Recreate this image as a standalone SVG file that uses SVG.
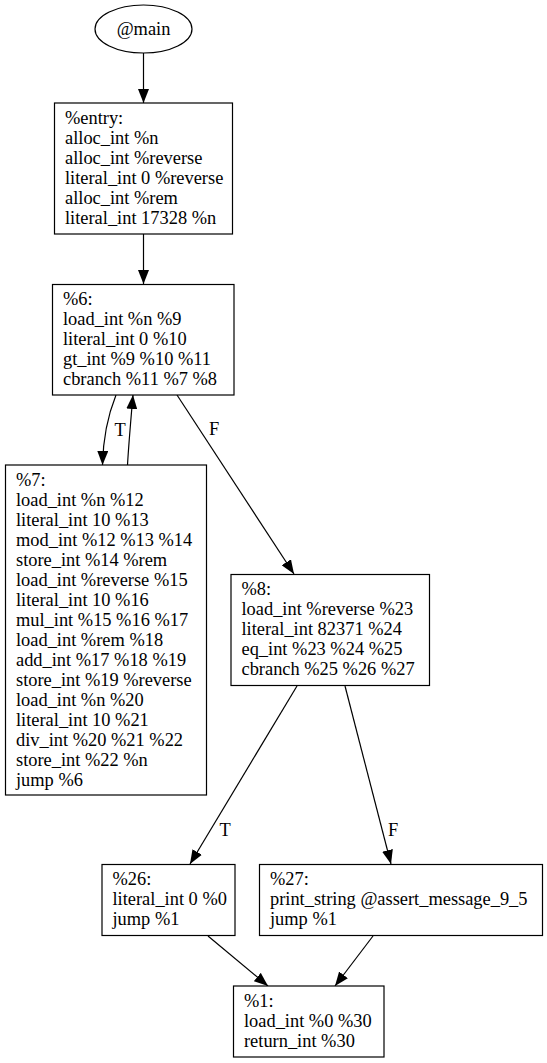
<svg xmlns="http://www.w3.org/2000/svg" width="547" height="1063" viewBox="0 0 547 1063">
<style>
text { font-family: "Liberation Serif", "Times New Roman", serif; font-size: 18.4px; fill: #000; }
.box { fill: #fff; stroke: #000; stroke-width: 1.2; }
.edge { fill: none; stroke: #000; stroke-width: 1.2; }
.mid { text-anchor: middle; }
</style>
<defs>
<marker id="arr" markerUnits="userSpaceOnUse" markerWidth="15" markerHeight="11" refX="14" refY="5.5" orient="auto">
<path d="M0,0 L14,5.5 L0,11 z" fill="#000"/>
</marker>
</defs>
<rect width="547" height="1063" fill="#fff"/>
<g id="connectors">
<path class="edge" d="M143.5,53 L143.5,103" marker-end="url(#arr)"/>
<path class="edge" d="M143.5,234 L143.5,284" marker-end="url(#arr)"/>
<path class="edge" d="M116,395 C108,415 103,440 102.5,465" marker-end="url(#arr)"/>
<text x="120" y="436" class="mid">T</text>
<path class="edge" d="M127.5,465 C129,440 131,418 133,395" marker-end="url(#arr)"/>
<path class="edge" d="M177,395 L294,574" marker-end="url(#arr)"/>
<text x="214" y="435" class="mid">F</text>
<path class="edge" d="M297,686 L190,864" marker-end="url(#arr)"/>
<text x="225" y="836" class="mid">T</text>
<path class="edge" d="M345,686 L391,864" marker-end="url(#arr)"/>
<text x="393" y="836" class="mid">F</text>
<path class="edge" d="M208,936 L268,986" marker-end="url(#arr)"/>
<path class="edge" d="M373,936 L335,986" marker-end="url(#arr)"/>
</g>
<g id="main">
<ellipse cx="143.5" cy="29" rx="48.5" ry="24" class="box"/>
<text x="143.5" y="35" class="mid">@main</text>
</g>
<g id="entry">
<rect x="54.5" y="103" width="178" height="131" class="box"/>
<text x="65" y="124">%entry:</text>
<text x="65" y="144">alloc_int %n</text>
<text x="65" y="164">alloc_int %reverse</text>
<text x="65" y="184">literal_int 0 %reverse</text>
<text x="65" y="204">alloc_int %rem</text>
<text x="65" y="224">literal_int 17328 %n</text>
</g>
<g id="n6">
<rect x="52.5" y="284.5" width="181.5" height="110.5" class="box"/>
<text x="63" y="305">%6:</text>
<text x="63" y="325">load_int %n %9</text>
<text x="63" y="345">literal_int 0 %10</text>
<text x="63" y="365">gt_int %9 %10 %11</text>
<text x="63" y="385">cbranch %11 %7 %8</text>
</g>
<g id="n7">
<rect x="5.5" y="465" width="201" height="330" class="box"/>
<text x="16" y="486">%7:</text>
<text x="16" y="506">load_int %n %12</text>
<text x="16" y="526">literal_int 10 %13</text>
<text x="16" y="546">mod_int %12 %13 %14</text>
<text x="16" y="566">store_int %14 %rem</text>
<text x="16" y="586">load_int %reverse %15</text>
<text x="16" y="606">literal_int 10 %16</text>
<text x="16" y="626">mul_int %15 %16 %17</text>
<text x="16" y="646">load_int %rem %18</text>
<text x="16" y="666">add_int %17 %18 %19</text>
<text x="16" y="686">store_int %19 %reverse</text>
<text x="16" y="706">load_int %n %20</text>
<text x="16" y="726">literal_int 10 %21</text>
<text x="16" y="746">div_int %20 %21 %22</text>
<text x="16" y="766">store_int %22 %n</text>
<text x="16" y="786">jump %6</text>
</g>
<g id="n8">
<rect x="231" y="574.5" width="198.5" height="111" class="box"/>
<text x="241.5" y="595">%8:</text>
<text x="241.5" y="615">load_int %reverse %23</text>
<text x="241.5" y="635">literal_int 82371 %24</text>
<text x="241.5" y="655">eq_int %23 %24 %25</text>
<text x="241.5" y="675">cbranch %25 %26 %27</text>
</g>
<g id="n26">
<rect x="102" y="864.5" width="133" height="71" class="box"/>
<text x="112.5" y="885">%26:</text>
<text x="112.5" y="905">literal_int 0 %0</text>
<text x="112.5" y="925">jump %1</text>
</g>
<g id="n27">
<rect x="259.5" y="864.5" width="283" height="71" class="box"/>
<text x="270" y="885">%27:</text>
<text x="270" y="905">print_string @assert_message_9_5</text>
<text x="270" y="925">jump %1</text>
</g>
<g id="n1">
<rect x="233.5" y="986" width="150.5" height="71" class="box"/>
<text x="244" y="1006.5">%1:</text>
<text x="244" y="1026.5">load_int %0 %30</text>
<text x="244" y="1046.5">return_int %30</text>
</g>
</svg>
